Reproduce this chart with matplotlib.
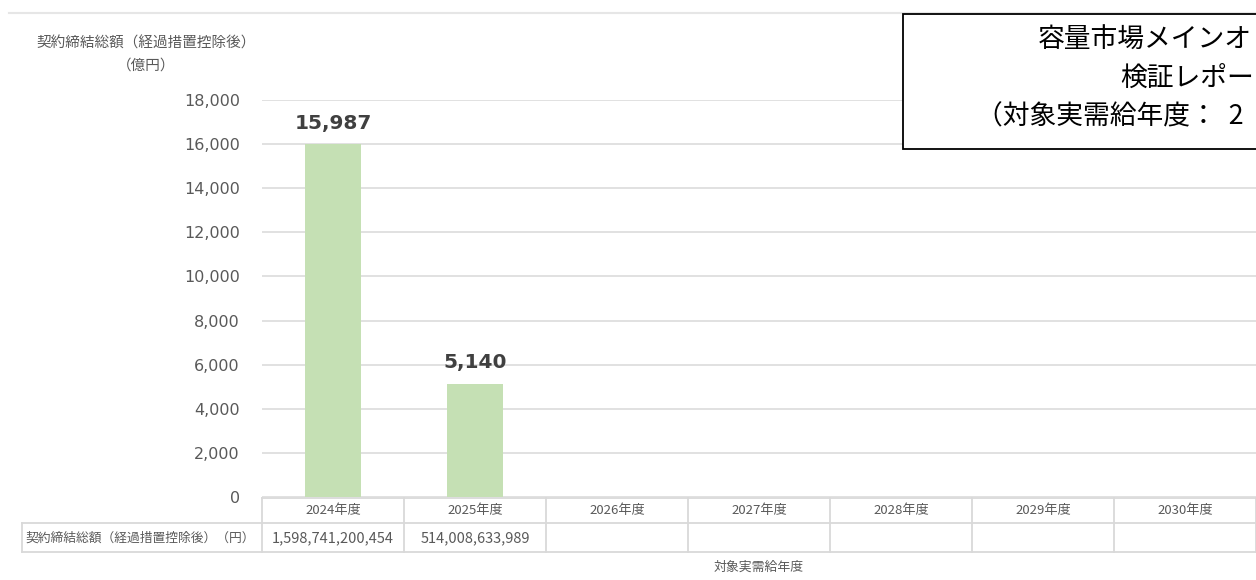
import numpy as np
import matplotlib
matplotlib.use("Agg")
import matplotlib.pyplot as plt
from matplotlib.lines import Line2D
from matplotlib.patches import Rectangle

plt.rcParams['font.family'] = ['DejaVu Sans', 'Noto Sans CJK JP']

# data
years = ['2024年度', '2025年度', '2026年度', '2027年度', '2028年度', '2029年度', '2030年度']
contract_yen = [1598741200454, 514008633989, None, None, None, None, None]

y_title = '契約締結総額（経過措置控除後）\n（億円）'
row_label = '契約締結総額（経過措置控除後）（円）'
x_title = '対象実需給年度'
# the title box runs past the right edge of the picture; only this part shows
box_lines = ['容量市場メインオ', '検証レポー', '（対象実需給年度：  2']

W, H = 1256, 580
CJK = 'Noto Sans CJK JP'
GRAY = '#595959'
GRID = '#d9d9d9'


def fx(px):
    return px / W


def fy(py):
    return 1 - py / H


fig = plt.figure(figsize=(W / 100, H / 100), dpi=100)
ax = fig.add_axes([fx(262), fy(497), fx(1256) - fx(262), fy(100) - fy(497)])

x = np.arange(len(years))
oku = np.array([v / 1e8 if v is not None else np.nan for v in contract_yen])
ax.bar(x, np.nan_to_num(oku), width=0.4, color='#c5e0b4', zorder=2)

for xi, v in zip(x, oku):
    if np.isnan(v):
        continue
    ax.annotate(f'{v:,.0f}', (xi, v), xytext=(0, 11), textcoords='offset points',
                ha='center', va='baseline', fontsize=14.5, fontweight='bold', color='#404040')

ax.set_xlim(-0.5, len(years) - 0.5)
ax.set_ylim(0, 18000)
ax.set_yticks(np.arange(0, 18001, 2000))
ax.set_yticklabels([f'{t:,}' for t in range(0, 18001, 2000)])
ax.tick_params(axis='y', length=0, pad=16, labelsize=11.5, labelcolor=GRAY)
ax.set_xticks(x)
ax.set_xticklabels(years, family=CJK)
ax.tick_params(axis='x', length=0, pad=5, labelsize=9.5, labelcolor=GRAY)
ax.yaxis.grid(True, color=GRID, lw=1.1, zorder=0)
ax.set_axisbelow(True)
for s in ax.spines.values():
    s.set_visible(False)

# y axis title
fig.text(fx(146), fy(54.5), y_title, ha='center', va='center', family=CJK,
         fontsize=10.5, color=GRAY, linespacing=1.75)

# data table under the axis
def hline(y, x0, x1):
    fig.add_artist(Line2D([fx(x0), fx(x1)], [fy(y), fy(y)], color=GRID, lw=1.3))


def vline(xp, y0, y1):
    fig.add_artist(Line2D([fx(xp), fx(xp)], [fy(y0), fy(y1)], color=GRID, lw=1.3))


col_w = (1256 - 262) / len(years)
hline(498, 262, 1256)
hline(523, 22, 1256)
hline(552, 22, 1256)
vline(22, 523, 552)
for k in range(len(years) + 1):
    vline(262 + k * col_w, 498, 552)

fig.text(fx(25), fy(538), row_label, ha='left', va='center', family=CJK,
         fontsize=9.2, color=GRAY)
for k, v in enumerate(contract_yen):
    if v is None:
        continue
    fig.text(fx(262 + (k + 0.5) * col_w), fy(538), f'{v:,}', ha='center', va='center',
             family=CJK, fontsize=10.5, color=GRAY)

fig.text(fx(759), fy(567), x_title, ha='center', va='center', family=CJK,
         fontsize=9.3, color=GRAY)

# top border line
fig.add_artist(Line2D([fx(9), fx(1256)], [fy(13), fy(13)], color='#e6e6e6', lw=1.5))

# title box (extends past the right edge)
fig.add_artist(Rectangle((fx(903), fy(149)), fx(500), fy(14) - fy(149),
                         transform=fig.transFigure, facecolor='white',
                         edgecolor='black', lw=1.3, zorder=5))
for txt, xs, yc in zip(box_lines, [1038, 1120, 976], [40, 78, 117]):
    fig.text(fx(xs), fy(yc), txt, ha='left', va='center', family=CJK,
             fontsize=19.3, color='black', zorder=6)

fig.savefig('out.png', dpi=100)
